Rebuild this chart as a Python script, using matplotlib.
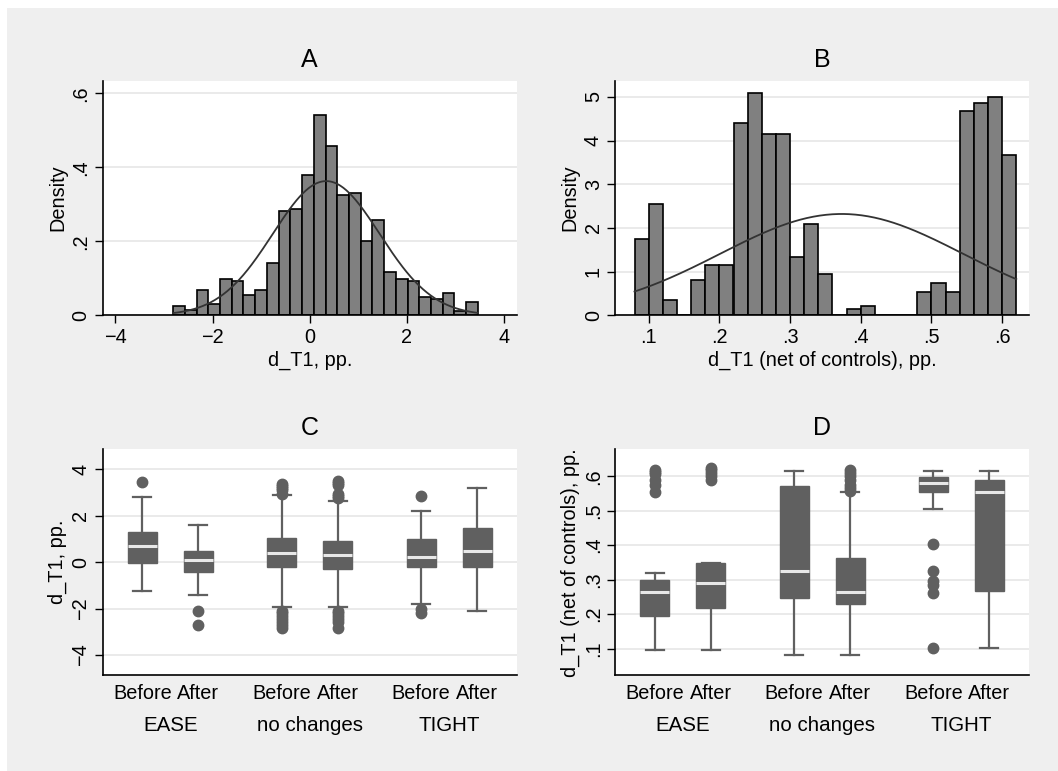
import matplotlib
matplotlib.use("Agg")
import matplotlib.pyplot as plt
from matplotlib.patches import Rectangle
import numpy as np

plt.rcParams["font.family"] = ["Liberation Sans", "DejaVu Sans"]

W, H = 1058, 771

# panel A: histogram of d_T1
a_start, a_width = -2.81, 0.2412
a_heights = [0.025, 0.013, 0.068, 0.031, 0.099, 0.092, 0.055, 0.068, 0.141, 0.281,
             0.286, 0.379, 0.542, 0.458, 0.324, 0.330, 0.202, 0.257, 0.116, 0.099,
             0.092, 0.050, 0.043, 0.061, 0.011, 0.037]
a_mean, a_sd = 0.34, 1.10

# panel B: histogram of d_T1 net of controls
b_start, b_width = 0.08, 0.02
b_heights = [1.74, 2.55, 0.34, 0.0, 0.81, 1.14, 1.14, 4.41, 5.08, 4.14,
             4.14, 1.33, 2.08, 0.94, 0.0, 0.14, 0.21, 0.0, 0.0, 0.0,
             0.54, 0.73, 0.54, 4.68, 4.87, 5.00, 3.68]
b_mean, b_sd = 0.373, 0.172

groups = ["EASE", "no changes", "TIGHT"]
periods = ["Before", "After"]

# panel C box stats (order: EASE before/after, no changes before/after, TIGHT before/after)
c_med = [0.72, 0.115, 0.40, 0.30, 0.23, 0.49]
c_q1 = [-0.03, -0.43, -0.22, -0.29, -0.22, -0.22]
c_q3 = [1.32, 0.49, 1.06, 0.93, 1.01, 1.48]
c_lo = [-1.24, -1.39, -1.91, -1.91, -1.80, -2.08]
c_hi = [2.80, 1.61, 2.89, 2.64, 2.21, 3.20]
c_out = [[3.48],
         [-2.08, -2.72],
         [3.36, 3.28, 3.20, 3.12, 2.93, -2.08, -2.20, -2.33, -2.46, -2.58, -2.70, -2.83],
         [3.51, 3.42, 3.33, 2.95, 2.85, 2.79, -2.08, -2.20, -2.33, -2.46, -2.58, -2.82],
         [2.87, -2.03, -2.20],
         []]

# panel D box stats
d_med = [0.263, 0.290, 0.325, 0.265, 0.581, 0.554]
d_q1 = [0.195, 0.219, 0.246, 0.230, 0.553, 0.266]
d_q3 = [0.300, 0.348, 0.572, 0.362, 0.599, 0.589]
d_lo = [0.096, 0.096, 0.081, 0.081, 0.505, 0.103]
d_hi = [0.320, 0.348, 0.616, 0.555, 0.614, 0.616]
d_out = [[0.555, 0.575, 0.590, 0.605, 0.613, 0.618],
         [0.590, 0.600, 0.610, 0.618, 0.625],
         [],
         [0.558, 0.566, 0.575, 0.590, 0.600, 0.610, 0.618],
         [0.402, 0.325, 0.296, 0.285, 0.260, 0.103],
         []]

BG = "#efefef"
GRID = "#e6e6e6"
BOX = "#606060"
FS = 14.3


def add_ax(fig, left, top, right, bottom):
    ax = fig.add_axes([left / W, 1 - bottom / H, (right - left) / W, (bottom - top) / H])
    ax.set_facecolor("white")
    for s in ["top", "right"]:
        ax.spines[s].set_visible(False)
    ax.spines["left"].set_linewidth(1.2)
    ax.spines["bottom"].set_linewidth(1.2)
    ax.tick_params(length=6, width=1, labelsize=FS, pad=3)
    ax.yaxis.grid(True, color=GRID, lw=1.2)
    ax.set_axisbelow(True)
    return ax


def style_yticks(ax, ticks, labels):
    ax.set_yticks(ticks)
    ax.set_yticklabels(labels, rotation=90, va="center")


def hist_panel(ax, start, width, heights, mean, sd):
    edges = start + width * np.arange(len(heights) + 1)
    ax.bar(edges[:-1], heights, width=width, align="edge", color="#808080",
           edgecolor="black", linewidth=1.2, zorder=2)
    xs = np.linspace(edges[0], edges[-1], 300)
    ys = np.exp(-0.5 * ((xs - mean) / sd) ** 2) / (sd * np.sqrt(2 * np.pi))
    ax.plot(xs, ys, color="#333333", lw=1.3, zorder=3)


def box_panel(ax, med, q1, q3, lo, hi, out):
    stats = []
    for i in range(len(med)):
        stats.append({"med": med[i], "q1": q1[i], "q3": q3[i],
                      "whislo": lo[i], "whishi": hi[i], "fliers": out[i]})
    pos = []
    for g in range(len(groups)):
        pos += [g - 0.201, g + 0.201]
    ax.bxp(stats, positions=pos, widths=0.208, capwidths=0.13, patch_artist=True,
           showfliers=True,
           boxprops=dict(facecolor=BOX, edgecolor=BOX, linewidth=1),
           medianprops=dict(color="#e8e8e8", linewidth=2.2),
           whiskerprops=dict(color=BOX, linewidth=1.6),
           capprops=dict(color=BOX, linewidth=1.6),
           flierprops=dict(marker="o", markerfacecolor=BOX, markeredgecolor=BOX,
                           markersize=7.5))
    ax.set_xlim(-0.485, 2.485)
    ax.set_xticks(pos)
    ax.set_xticklabels(periods * len(groups), fontsize=FS)
    for lab, p in zip(ax.get_xticklabels(), periods * len(groups)):
        lab.set_ha("center")
    ax.tick_params(axis="x", length=0, pad=6)
    for g, name in enumerate(groups):
        ax.annotate(name, xy=(g, 0), xycoords=("data", "axes fraction"),
                    xytext=(0, -43), textcoords="offset points",
                    ha="center", va="bottom", fontsize=FS + 0.5)


fig = plt.figure(figsize=(W / 100, H / 100), dpi=100, facecolor="white")
fig.patches.append(Rectangle((7 / W, 0), 1 - 7 / W, 1 - 8 / H, transform=fig.transFigure,
                             facecolor=BG, edgecolor="none", zorder=-1))

# A
ax = add_ax(fig, 102.7, 80.7, 516.7, 315.3)
hist_panel(ax, a_start, a_width, a_heights, a_mean, a_sd)
ax.set_xlim(-4.26, 4.26)
ax.set_ylim(0, 0.634)
ax.set_xticks([-4, -2, 0, 2, 4])
ax.set_xticklabels(["\u22124", "\u22122", "0", "2", "4"])
style_yticks(ax, [0, 0.2, 0.4, 0.6], ["0", ".2", ".4", ".6"])
ax.set_xlabel("d_T1, pp.", fontsize=FS, labelpad=3)
ax.set_ylabel("Density", fontsize=FS, labelpad=3)
ax.set_title("A", fontsize=18, pad=10)

# B
ax = add_ax(fig, 615.3, 80.7, 1029, 315.3)
hist_panel(ax, b_start, b_width, b_heights, b_mean, b_sd)
ax.set_xlim(0.0528, 0.638)
ax.set_ylim(0, 5.37)
ax.set_xticks([0.1, 0.2, 0.3, 0.4, 0.5, 0.6])
ax.set_xticklabels([".1", ".2", ".3", ".4", ".5", ".6"])
style_yticks(ax, [0, 1, 2, 3, 4, 5], ["0", "1", "2", "3", "4", "5"])
ax.set_xlabel("d_T1 (net of controls), pp.", fontsize=FS, labelpad=3)
ax.set_ylabel("Density", fontsize=FS, labelpad=3)
ax.set_title("B", fontsize=18, pad=10)

# C
ax = add_ax(fig, 102.7, 449.3, 516.7, 675.3)
box_panel(ax, c_med, c_q1, c_q3, c_lo, c_hi, c_out)
ax.set_ylim(-4.87, 4.87)
style_yticks(ax, [-4, -2, 0, 2, 4], ["\u22124", "\u22122", "0", "2", "4"])
ax.set_ylabel("d_T1, pp.", fontsize=FS, labelpad=3)
ax.set_title("C", fontsize=18, pad=10)

# D
ax = add_ax(fig, 615.3, 449.3, 1029, 675.3)
box_panel(ax, d_med, d_q1, d_q3, d_lo, d_hi, d_out)
ax.set_ylim(0.0226, 0.678)
style_yticks(ax, [0.1, 0.2, 0.3, 0.4, 0.5, 0.6], [".1", ".2", ".3", ".4", ".5", ".6"])
ax.set_ylabel("d_T1 (net of controls), pp.", fontsize=FS, labelpad=3)
ax.set_title("D", fontsize=18, pad=10)

fig.savefig("out.png", dpi=100, facecolor=fig.get_facecolor())
